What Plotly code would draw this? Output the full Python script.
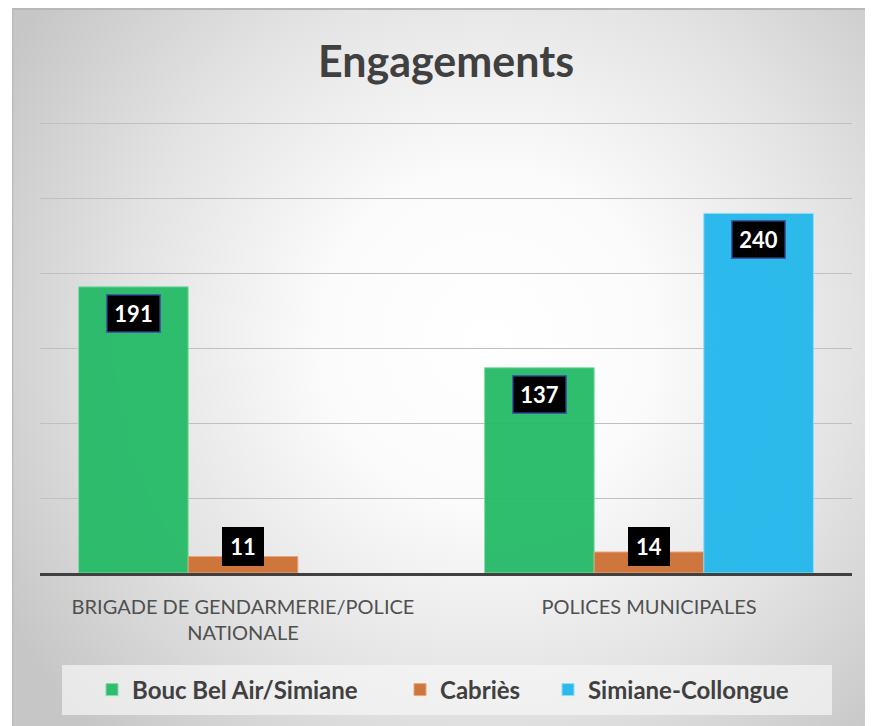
import base64
import plotly.graph_objects as go

categories = ["BRIGADE DE GENDARMERIE/POLICE<br>NATIONALE", "POLICES MUNICIPALES"]
series_names = ["Bouc Bel Air/Simiane", "Cabriès", "Simiane-Collongue"]
bouc_bel_air = [191, 137]
cabries = [11, 14]
simiane_collongue = [None, 240]
y_ticks = [0, 50, 100, 150, 200, 250, 300]

series_values = [bouc_bel_air, cabries, simiane_collongue]
colors = ["#25BA67", "#CD7034", "#22B8EC"]
edge_colors = ["#7DDDA5", "#E8A274", "#8FDBF6"]
legend_ids = ["legend", "legend2", "legend3"]
legend_px = [92, 400, 548]   # left pixel of each legend entry

W, H = 873, 726
L, R, T, B = 32, 29, 114, 161
OX = 8  # page offset
bargap = 0.19
pw, ph = W - L - R, H - T - B

fig = go.Figure()
for name, vals, c, ec, lg in zip(series_names, series_values, colors, edge_colors, legend_ids):
    fig.add_trace(go.Bar(
        x=list(range(len(categories))), y=vals, name=name, legend=lg,
        marker=dict(color=c, line=dict(color=ec, width=1)), opacity=0.95,
    ))

# data labels
bw = (1 - bargap) / len(series_names)
for si, vals in enumerate(series_values):
    for ci, v in enumerate(vals):
        if v is None:
            continue
        xpos = ci + (si - (len(series_names) - 1) / 2) * bw
        big = v > 40
        fig.add_annotation(
            x=xpos, y=v if big else 0, xref="x", yref="y",
            yanchor="top" if big else "bottom",
            yshift=-7 if big else 7,
            text=f"<b>{v}</b>", showarrow=False,
            font=dict(family="Lato", size=22, color="white"),
            bgcolor="black",
            bordercolor="#3A5BA8" if big else "black", borderwidth=1.5,
            width=50 if big else 37, height=34, borderpad=1,
        )

# background radial gradient over the whole paper
svg = f'''<svg xmlns="http://www.w3.org/2000/svg" width="{W}" height="{H}" viewBox="0 0 {W} {H}">
<defs><radialGradient id="g" gradientUnits="userSpaceOnUse" cx="480" cy="330" r="560">
<stop offset="0" stop-color="#ffffff"/><stop offset="0.3" stop-color="#fbfbfb"/>
<stop offset="0.65" stop-color="#e3e3e3"/>
<stop offset="1" stop-color="#c6c6c6"/></radialGradient></defs>
<rect x="0" y="0" width="{W}" height="{H}" fill="url(#g)"/>
<rect x="0" y="0" width="4" height="{H}" fill="#ffffff"/>
<rect x="4" y="0" width="{W}" height="2" fill="#b8b8b8"/>
<rect x="4" y="0" width="1.5" height="{H}" fill="#bcbcbc"/>
</svg>'''
src = "data:image/svg+xml;base64," + base64.b64encode(svg.encode()).decode()
fig.add_layout_image(
    source=src, xref="paper", yref="paper",
    x=-L / pw, y=(H - B) / ph, sizex=W / pw, sizey=H / ph,
    xanchor="left", yanchor="top", sizing="stretch", layer="below",
)

# legend background
fig.add_shape(type="rect", xref="paper", yref="paper",
              x0=(62 - OX - L) / pw, x1=(832 - OX - L) / pw,
              y0=(H - B - (715 - OX)) / ph, y1=(H - B - (665 - OX)) / ph,
              fillcolor="rgba(246,246,246,0.7)", line=dict(width=0), layer="below")

legend_common = dict(orientation="h", xanchor="left", yanchor="middle",
                     xref="paper", yref="paper",
                     y=(H - B - (690 - OX)) / ph,
                     bgcolor="rgba(0,0,0,0)",
                     font=dict(family="Lato", size=24, color="#404040", weight="bold"),
                     itemwidth=30)
legends = {}
for lg, px in zip(legend_ids, legend_px):
    legends[lg] = dict(legend_common, x=(px - OX - L) / pw)

fig.update_layout(
    width=W, height=H,
    margin=dict(l=L, r=R, t=T, b=B),
    paper_bgcolor="#e0e0e0", plot_bgcolor="rgba(0,0,0,0)",
    barmode="group", bargap=bargap, bargroupgap=0,
    title=dict(text="<b>Engagements</b>", x=0.5, xanchor="center", xref="paper",
               y=1 - 54 / H, yanchor="middle",
               font=dict(family="Lato", size=43, color="#404040")),
    showlegend=True,
    xaxis=dict(tickmode="array", tickvals=list(range(len(categories))), ticktext=categories,
               range=[-0.5, len(categories) - 0.5],
               tickfont=dict(family="Lato", size=20, color="#505050"),
               showgrid=False, showline=True, linecolor="#404040", linewidth=3,
               ticks="", ticklabelstandoff=14, zeroline=False),
    yaxis=dict(range=[0, 301], tickvals=y_ticks, showticklabels=False,
               showgrid=True, gridcolor="#C0C0C0", gridwidth=1,
               zeroline=False, showline=False),
    **legends,
)

fig.write_html("out.html")
